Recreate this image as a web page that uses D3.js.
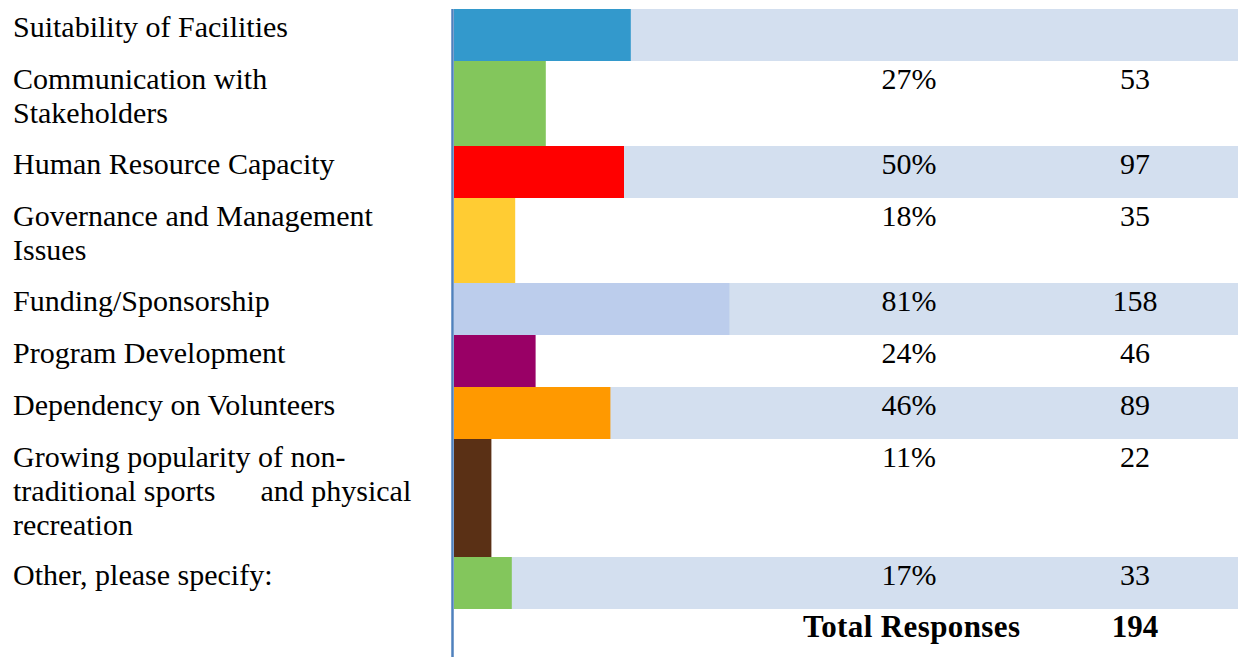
<!DOCTYPE html>
<html>
<head>
<meta charset="utf-8">
<script src="https://cdn.jsdelivr.net/npm/d3@7"></script>
<style>
  body { margin: 0; background: #fff; }
  svg text { font-family: 'Liberation Serif', 'Times New Roman', serif; fill: #000; }
</style>
</head>
<body>
<div class="container"></div>
<script>
// data
var categories = [
  ['Suitability of Facilities'],
  ['Communication with', 'Stakeholders'],
  ['Human Resource Capacity'],
  ['Governance and Management', 'Issues'],
  ['Funding/Sponsorship'],
  ['Program Development'],
  ['Dependency on Volunteers'],
  ['Growing popularity of non-', 'traditional sports\u2003\u2002and physical', 'recreation'],
  ['Other, please specify:']
]
var percents = [52, 27, 50, 18, 81, 24, 46, 11, 17]
var pctLabels = ['', '27%', '50%', '18%', '81%', '24%', '46%', '11%', '17%']
var counts = ['', '53', '97', '35', '158', '46', '89', '22', '33']
var colors = ['#3399cc', '#83c65c', '#ff0000', '#ffcc33', '#bccdec', '#990066', '#ff9900', '#5a3015', '#83c65c']
var totalLabel = 'Total Responses'
var totalCount = '194'

var width = 1238, height = 657
var svg = d3.select('.container').append('svg')
  .attr('width', width).attr('height', height)

var left = 454
var x = d3.scaleLinear().domain([0, 100]).range([left, left + 340])

// row layout, taller rows for wrapped labels
var rows = categories.map((lines, i) => ({
  lines, pct: percents[i], pctLabel: pctLabels[i], count: counts[i], color: colors[i], i
}))
var y0 = 9
rows.forEach(d => {
  d.h = 52 + (d.lines.length - 1) * 33
  d.y = y0
  y0 += d.h
})

var g = svg.selectAll('g.row').data(rows).join('g')
  .attr('class', 'row')
  .attr('transform', d => `translate(0,${d.y})`)

g.filter(d => d.i % 2 == 0).append('rect')
  .attr('x', left).attr('width', width - left)
  .attr('height', d => d.h)
  .attr('fill', '#d3dfef')

g.append('rect')
  .attr('x', left)
  .attr('width', d => x(d.pct) - left)
  .attr('height', d => d.h)
  .attr('fill', d => d.color)

g.append('text')
  .attr('x', 13).attr('y', 28)
  .style('font-size', '30px')
  .selectAll('tspan').data(d => d.lines).join('tspan')
  .attr('x', 13)
  .attr('dy', (d, i) => i ? 34 : 0)
  .style('white-space', 'pre')
  .text(d => d)

g.append('text')
  .attr('x', 909).attr('y', 28)
  .attr('text-anchor', 'middle')
  .style('font-size', '30px')
  .text(d => d.pctLabel)

g.append('text')
  .attr('x', 1135).attr('y', 28)
  .attr('text-anchor', 'middle')
  .style('font-size', '30px')
  .text(d => d.count)

// total row
svg.append('text')
  .attr('x', 1020).attr('y', y0 + 28)
  .attr('text-anchor', 'end')
  .style('font-size', '31px').style('font-weight', 700)
  .attr('textLength', 217)
  .text(totalLabel)
svg.append('text')
  .attr('x', 1135).attr('y', y0 + 28)
  .attr('text-anchor', 'middle')
  .style('font-size', '31px').style('font-weight', 700)
  .text(totalCount)

// left axis line
svg.append('line')
  .attr('x1', 452.5).attr('x2', 452.5)
  .attr('y1', 9).attr('y2', height)
  .attr('stroke', '#4f81bd').attr('stroke-width', 2.5)
</script>
</body>
</html>
